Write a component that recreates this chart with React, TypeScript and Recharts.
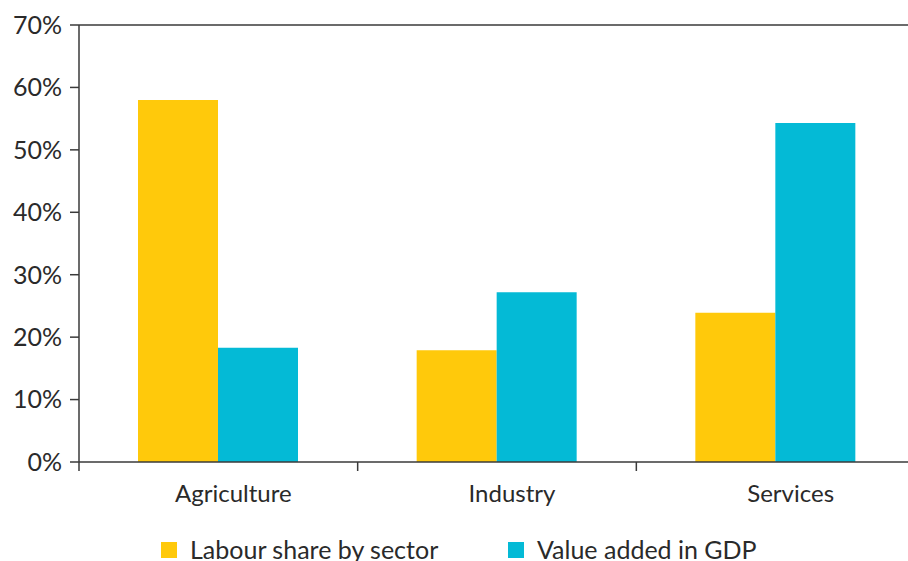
import React from "react";
import { BarChart, Bar, XAxis, YAxis, ReferenceLine, Legend } from "recharts";

// Sector shares (%)
const sectors = ["Agriculture", "Industry", "Services"];
const labourShare = [58.0, 17.9, 23.9];
const valueAdded = [18.3, 27.2, 54.3];
const yTicks = [0, 10, 20, 30, 40, 50, 60, 70];

const data = sectors.map((s, i) => ({
  sector: s,
  labour: labourShare[i],
  value: valueAdded[i],
}));

const YELLOW = "#FFC90B";
const BLUE = "#04BAD6";
const AXIS = "#3a3a3a";
const FONT = "Lato, 'Open Sans', sans-serif";
const TEXT = "#2a2a2a";

const series = [
  { key: "labour", name: "Labour share by sector", color: YELLOW },
  { key: "value", name: "Value added in GDP", color: BLUE },
];

// Category label centred in its band, with tick marks on the band boundaries
function SectorTick(props: any) {
  const { x, y, payload, index, visibleTicksCount } = props;
  const half = payload.offset ?? 0;
  const last = index === (visibleTicksCount ?? sectors.length) - 1;
  return (
    <g>
      <line x1={x - half} x2={x - half} y1={y} y2={y + 9} stroke={AXIS} strokeWidth={1.5} />
      {last && <line x1={x + half} x2={x + half} y1={y} y2={y + 9} stroke={AXIS} strokeWidth={1.5} />}
      <text x={x + 15} y={y + 40} textAnchor="middle" fontFamily={FONT} fontSize={24} fill={TEXT}>
        {payload.value}
      </text>
    </g>
  );
}

function LegendContent() {
  return (
    <div style={{ height: 39, position: "relative", fontFamily: FONT, fontSize: 25, color: TEXT }}>
      {series.map((s, i) => (
        <div
          key={s.key}
          style={{
            position: "absolute",
            left: i === 0 ? 161 : 508,
            top: 19,
            height: 17,
            display: "flex",
            alignItems: "center",
            whiteSpace: "nowrap",
          }}
        >
          <span style={{ width: 16, height: 16, background: s.color, display: "inline-block", marginRight: 13 }} />
          <span style={{ lineHeight: "17px" }}>{s.name}</span>
        </div>
      ))}
    </div>
  );
}

export default function App() {
  return (
    <div style={{ position: "absolute", left: 0, top: 0, width: 908, height: 561, overflow: "hidden", background: "#fff" }}>
      <BarChart
        width={915}
        height={561}
        data={data}
        margin={{ top: 25, right: 0, bottom: 0, left: 0 }}
        barGap={0}
      >
        <XAxis
          dataKey="sector"
          height={60}
          interval={0}
          tickSize={0}
          tickMargin={0}
          tickLine={false}
          axisLine={{ stroke: AXIS, strokeWidth: 1.5 }}
          tick={<SectorTick />}
        />
        <YAxis
          width={79}
          domain={[0, 70]}
          ticks={yTicks}
          interval={0}
          tickFormatter={(v: number) => `${v}%`}
          tickSize={9}
          tickMargin={8}
          axisLine={{ stroke: AXIS, strokeWidth: 1.5 }}
          tickLine={{ stroke: AXIS, strokeWidth: 1.5 }}
          tick={{ fontFamily: FONT, fontSize: 25, fill: TEXT }}
        />
        <ReferenceLine y={70} stroke={AXIS} strokeWidth={1.5} />
        {series.map((s) => (
          <Bar
            key={s.key}
            dataKey={s.key}
            name={s.name}
            fill={s.color}
            barSize={80}
            isAnimationActive={false}
          />
        ))}
        <Legend verticalAlign="bottom" height={39} content={<LegendContent />} />
      </BarChart>
    </div>
  );
}
